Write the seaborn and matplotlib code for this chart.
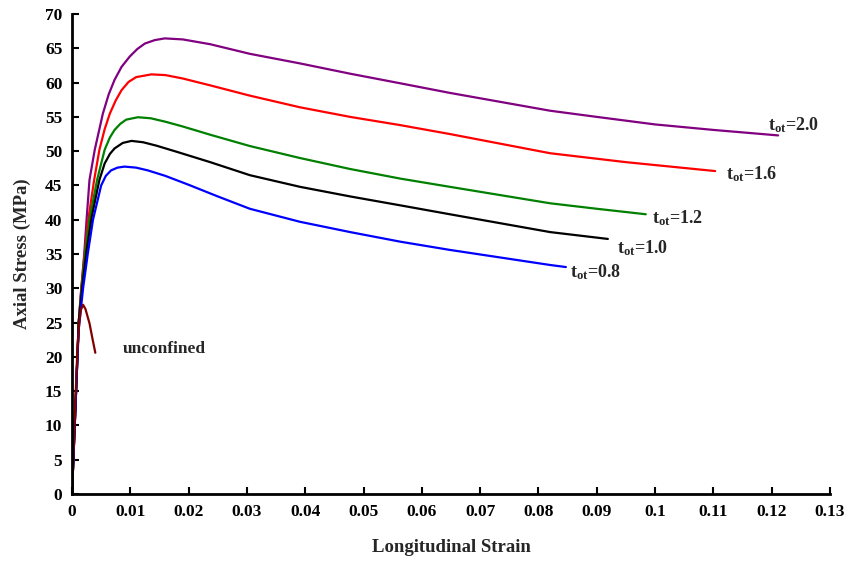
import matplotlib
matplotlib.use("Agg")
import matplotlib.pyplot as plt
import seaborn as sns
import pandas as pd

# ---- data ----
strain_20 = [0, 0.0007, 0.00115, 0.0016, 0.0021, 0.0025, 0.0030, 0.0039, 0.0053, 0.0063, 0.0073, 0.0085, 0.0099, 0.0112, 0.0125, 0.0142, 0.0159, 0.019, 0.0237, 0.0305, 0.0391, 0.0477, 0.0563, 0.0648, 0.0734, 0.082, 0.090, 0.100, 0.110, 0.1211]
stress_20 = [0, 15, 25, 30, 35, 40, 45.8, 50.2, 55.5, 58.3, 60.4, 62.3, 63.8, 64.9, 65.7, 66.2, 66.45, 66.3, 65.6, 64.2, 62.8, 61.3, 59.9, 58.5, 57.2, 55.9, 55.0, 53.9, 53.1, 52.3]

strain_16 = [0, 0.0007, 0.00115, 0.0016, 0.0021, 0.0027, 0.0038, 0.0047, 0.0056, 0.0065, 0.0075, 0.0085, 0.0097, 0.0110, 0.0136, 0.0160, 0.0190, 0.0237, 0.0305, 0.0391, 0.0477, 0.0563, 0.0648, 0.0734, 0.082, 0.095, 0.1103]
stress_16 = [0, 15, 25, 30, 34.5, 39.5, 45.8, 50.2, 53.2, 55.5, 57.4, 58.9, 60.1, 60.8, 61.2, 61.1, 60.6, 59.6, 58.1, 56.4, 55.0, 53.8, 52.5, 51.1, 49.7, 48.4, 47.1]

strain_12 = [0, 0.0007, 0.00115, 0.0017, 0.0023, 0.0030, 0.0043, 0.0056, 0.0065, 0.0073, 0.0083, 0.0093, 0.0113, 0.0135, 0.0160, 0.0190, 0.0237, 0.0305, 0.0391, 0.0477, 0.0563, 0.0648, 0.0734, 0.082, 0.090, 0.0984]
stress_12 = [0, 15, 25, 30.5, 35.5, 40, 45.8, 50.2, 52.0, 53.1, 54.0, 54.6, 54.95, 54.8, 54.3, 53.6, 52.4, 50.75, 49.0, 47.4, 46.0, 44.8, 43.6, 42.4, 41.6, 40.8]

strain_10 = [0, 0.0007, 0.00115, 0.0018, 0.0025, 0.0034, 0.0047, 0.0056, 0.0065, 0.0073, 0.0087, 0.0102, 0.0122, 0.0145, 0.0180, 0.0237, 0.0305, 0.0391, 0.0477, 0.0563, 0.0648, 0.0734, 0.082, 0.0919]
stress_10 = [0, 15, 25, 30.5, 35.5, 40.5, 45.8, 48.2, 49.6, 50.4, 51.2, 51.5, 51.3, 50.8, 49.9, 48.4, 46.5, 44.8, 43.4, 42.1, 40.8, 39.5, 38.2, 37.2]

strain_08 = [0, 0.0007, 0.00115, 0.0019, 0.0027, 0.0036, 0.0050, 0.0058, 0.0067, 0.0078, 0.0090, 0.0110, 0.0130, 0.0160, 0.0200, 0.0250, 0.0305, 0.0391, 0.0477, 0.0563, 0.0648, 0.0734, 0.082, 0.0847]
stress_08 = [0, 15, 24, 30, 35, 40, 45, 46.4, 47.2, 47.6, 47.75, 47.6, 47.2, 46.4, 45.1, 43.4, 41.6, 39.7, 38.2, 36.8, 35.6, 34.5, 33.4, 33.1]

strain_unc = [0, 0.0003, 0.0006, 0.0009, 0.0012, 0.0015, 0.0019, 0.0023, 0.0027, 0.0030, 0.0035, 0.0040]
stress_unc = [0, 7, 14, 20.5, 24.5, 26.8, 27.6, 27.0, 25.8, 24.9, 22.7, 20.6]

labels = ["2.0", "1.6", "1.2", "1.0", "0.8"]
label_x = [0.1194, 0.1122, 0.0995, 0.0935, 0.0854]
label_y = [53.8, 46.7, 40.3, 35.9, 32.3]

series = [
    (strain_20, stress_20, "#800080"),
    (strain_16, stress_16, "#ff0000"),
    (strain_12, stress_12, "#008000"),
    (strain_10, stress_10, "#000000"),
    (strain_08, stress_08, "#0000ff"),
    (strain_unc, stress_unc, "#800000"),
]

sns.set_theme(style="white")
plt.rcParams["font.family"] = ["Liberation Serif", "DejaVu Serif"]
plt.rcParams["font.weight"] = "bold"
plt.rcParams["mathtext.fontset"] = "custom"
plt.rcParams["mathtext.rm"] = "Liberation Serif:bold"
plt.rcParams["mathtext.it"] = "Liberation Serif:bold"
plt.rcParams["mathtext.bf"] = "Liberation Serif:bold"

fig = plt.figure(figsize=(8.48, 5.62), dpi=100)
ax = fig.add_axes([0.0849, 0.121, 0.8939, 0.854])

for xs, ys, c in series:
    df = pd.DataFrame({"strain": xs, "stress": ys})
    sns.lineplot(data=df, x="strain", y="stress", color=c, linewidth=1.6,
                 sort=False, estimator=None, ax=ax)

for lab, lx, ly in zip(labels, label_x, label_y):
    ax.text(lx, ly, r"t$_{\mathrm{ot}}$=" + lab, fontsize=13, fontweight="bold",
            ha="left", va="center")
ax.text(0.00875, 21.1, "unconfined", fontsize=12.5, fontweight="bold", ha="left", va="center")

ax.set_xlim(0, 0.13)
ax.set_ylim(0, 70)
ax.set_xticks([i * 0.01 for i in range(14)])
ax.set_xticklabels(["0", "0.01", "0.02", "0.03", "0.04", "0.05", "0.06", "0.07",
                    "0.08", "0.09", "0.1", "0.11", "0.12", "0.13"])
ax.set_yticks(range(0, 71, 5))
ax.tick_params(direction="in", length=5, width=1.5, labelsize=12.5, pad=7,
               bottom=True, left=True, colors="black")
for t in ax.get_xticklabels() + ax.get_yticklabels():
    t.set_fontweight("bold")

for s in ["top", "right"]:
    ax.spines[s].set_visible(False)
for s in ["left", "bottom"]:
    ax.spines[s].set_linewidth(2)
    ax.spines[s].set_color("black")

ax.set_xlabel("Longitudinal Strain", fontsize=13.5, fontweight="bold", labelpad=14)
ax.set_ylabel("Axial Stress (MPa)", fontsize=13.5, fontweight="bold", labelpad=10)
ax.grid(False)

fig.savefig("out.png", dpi=100)
